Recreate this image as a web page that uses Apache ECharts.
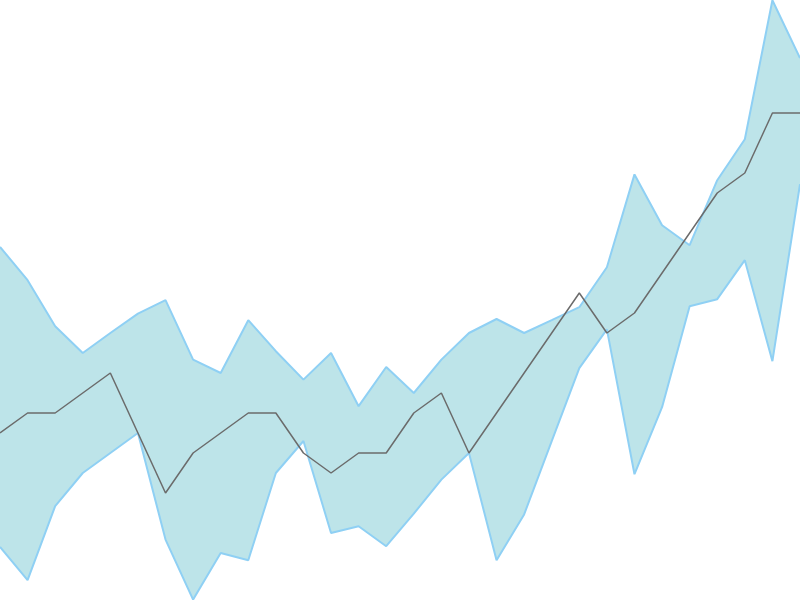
<!DOCTYPE html>
<html>
<head>
<meta charset="utf-8">
<script src="https://cdn.jsdelivr.net/npm/echarts@6/dist/echarts.min.js"></script>
<style>html,body{margin:0;padding:0;background:#fff}#main{width:800px;height:600px}</style>
</head>
<body>
<div id="main"></div>
<script>
var categories = ['1','2','3','4','5','6','7','8','9','10','11','12','13','14','15','16','17','18','19','20','21','22','23','24','25','26','27','28','29','30'];
var middle = [8,9,9,10,11,8,5,7,8,9,9,7,6,7,7,9,10,7,9,11,13,15,13,14,16,18,20,21,24,24];
var upper = [17.3,15.64,13.34,12.0,13.0,13.97,14.64,11.67,11.0,13.64,12.09,10.67,12.0,9.34,11.3,10.0,11.67,13.0,13.7,13.0,13.64,14.29,16.29,20.93,18.39,17.39,20.64,22.69,29.64,26.75];
var lower = [2.3,0.64,4.34,6.0,7.0,8.0,2.67,-0.33,2.0,1.64,6.0,7.6,3.0,3.34,2.34,3.97,5.67,7.0,1.64,3.93,7.59,11.24,13.18,5.94,9.29,14.34,14.69,16.64,11.59,20.44];

var band = upper.map(function (u, i) { return +(u - lower[i]).toFixed(3); });

var chart = echarts.init(document.getElementById('main'));
chart.setOption({
  animation: false,
  grid: { left: 0, right: 0, top: 0, bottom: 0 },
  xAxis: { type: 'category', data: categories, boundaryGap: false, show: false },
  yAxis: { type: 'value', min: -0.35, max: 29.65, show: false },
  series: [
    { name: 'L', type: 'line', data: lower, stack: 'band', stackStrategy: 'all', symbol: 'none', lineStyle: { opacity: 0 } },
    { name: 'B', type: 'line', data: band, stack: 'band', stackStrategy: 'all', symbol: 'none', lineStyle: { opacity: 0 },
      areaStyle: { color: '#bde4e9', opacity: 1 } },
    { name: 'Upper', type: 'line', data: upper, symbol: 'none', lineStyle: { color: '#8fd0f4', width: 2 }, z: 3 },
    { name: 'Lower', type: 'line', data: lower, symbol: 'none', lineStyle: { color: '#8fd0f4', width: 2 }, z: 3 },
    { name: 'Middle', type: 'line', data: middle, symbol: 'none', lineStyle: { color: '#6b6b6b', width: 1.5 }, z: 4 }
  ]
});
</script>
</body>
</html>
